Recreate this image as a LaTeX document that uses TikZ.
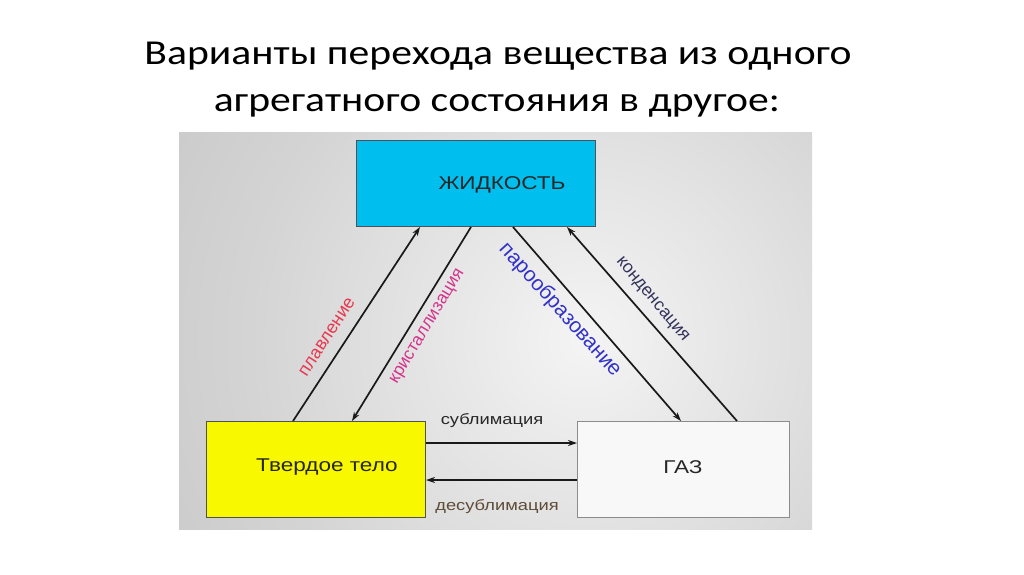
\documentclass[tikz,border=0pt]{standalone}
\usepackage{fontspec}
\setmainfont{Liberation Sans}
\newfontfamily\titlefont{Carlito}
\usetikzlibrary{arrows.meta,calc}
\definecolor{liqcol}{RGB}{0,190,238}
\definecolor{solcol}{RGB}{248,248,0}
\definecolor{gascol}{RGB}{248,248,248}
\definecolor{edgecol}{RGB}{80,80,90}
\definecolor{pEdge}{RGB}{174,174,174}
\definecolor{pMid}{RGB}{212,212,212}
\definecolor{pCen}{RGB}{244,244,244}
\definecolor{cRed}{RGB}{232,56,80}
\definecolor{cPink}{RGB}{212,52,140}
\definecolor{cBlue}{RGB}{50,50,200}
\definecolor{cNavy}{RGB}{50,50,90}
\definecolor{cBrown}{RGB}{95,75,55}
\pgfdeclareradialshading{panelshade}{\pgfpoint{0bp}{0bp}}{color(0bp)=(pCen); color(12bp)=(pMid); color(32bp)=(pEdge); color(50bp)=(pEdge)}
\newcommand{\sx}[1]{\scalebox{1.22}[1]{#1}}
\newcommand{\tx}[1]{\scalebox{1.19}[1]{#1}}
\begin{document}
\begin{tikzpicture}[x=1pt,y=-1pt,
  statebox/.style={draw=edgecol, line width=1pt, inner sep=0pt, anchor=north west},
  conn/.style={line width=1.7pt, draw=black!90, -{Stealth[length=9pt,width=6pt]}},
  boxtext/.style={font=\fontsize{18.5}{20}\selectfont, text=black!85},
  titletext/.style={anchor=base, font=\titlefont\fontsize{35}{38}\selectfont},
  lbl/.style={inner sep=0pt}]
\useasboundingbox (0,0) rectangle (1024,574);
\fill[white] (0,0) rectangle (1024,574);
% title
\node[titletext] (t1) at (498,64) {\tx{Варианты перехода вещества из одного}};
\node[titletext] (t2) at (497,111) {\tx{агрегатного состояния в другое:}};
% panel
\begin{scope}
\clip (179,132) rectangle (812,529);
\shade[shading=panelshade] (585,340) circle (700);
\end{scope}
% boxes
\node[statebox, fill=liqcol, minimum width=239pt, minimum height=86pt] (liq) at (356,140) {};
\node[statebox, fill=solcol, minimum width=219pt, minimum height=96pt] (sol) at (206,421) {};
\node[statebox, fill=gascol, draw=black!45, minimum width=212pt, minimum height=96pt] (gas) at (577,421) {};
\node[boxtext] (liqt) at (502,185) {\sx{ЖИДКОСТЬ}};
\node[boxtext] (solt) at (327,467) {\sx{Твердое тело}};
\node[boxtext] (gast) at (683,467) {\sx{ГАЗ}};
% connectors
\draw[conn] ($(sol.north west)+(87,0)$) -- ($(liq.south west)+(64,0)$);
\draw[conn] ($(liq.south west)+(115,0)$) -- ($(sol.north west)+(146,0)$);
\draw[conn] ($(liq.south west)+(157,0)$) -- ($(gas.north west)+(104,0)$);
\draw[conn] ($(gas.north west)+(160,0)$) -- ($(liq.south west)+(211,0)$);
\draw[conn] ($(sol.north east)+(0,22)$) -- ($(gas.north west)+(0,22)$);
\draw[conn] ($(gas.north west)+(0,59)$) -- ($(sol.north east)+(0,59)$);
% labels
\node[lbl, rotate=57, text=cRed, font=\fontsize{18}{20}\selectfont] (l1) at (327,337) {плавление};
\node[lbl, rotate=59, text=cPink, font=\fontsize{17.5}{19}\selectfont] (l2) at (428,327) {кристаллизация};
\node[lbl, rotate=-48, text=cBlue, font=\fontsize{21}{23}\selectfont] (l3) at (560,310) {парообразование};
\node[lbl, rotate=-50, text=cNavy, font=\fontsize{17.5}{19}\selectfont] (l4) at (652,300) {конденсация};
\node[lbl, text=black!85, font=\fontsize{15}{17}\selectfont] (l5) at (492,421) {\sx{сублимация}};
\node[lbl, text=cBrown, font=\fontsize{15}{17}\selectfont] (l6) at (497,507) {\sx{десублимация}};
\end{tikzpicture}
\end{document}
